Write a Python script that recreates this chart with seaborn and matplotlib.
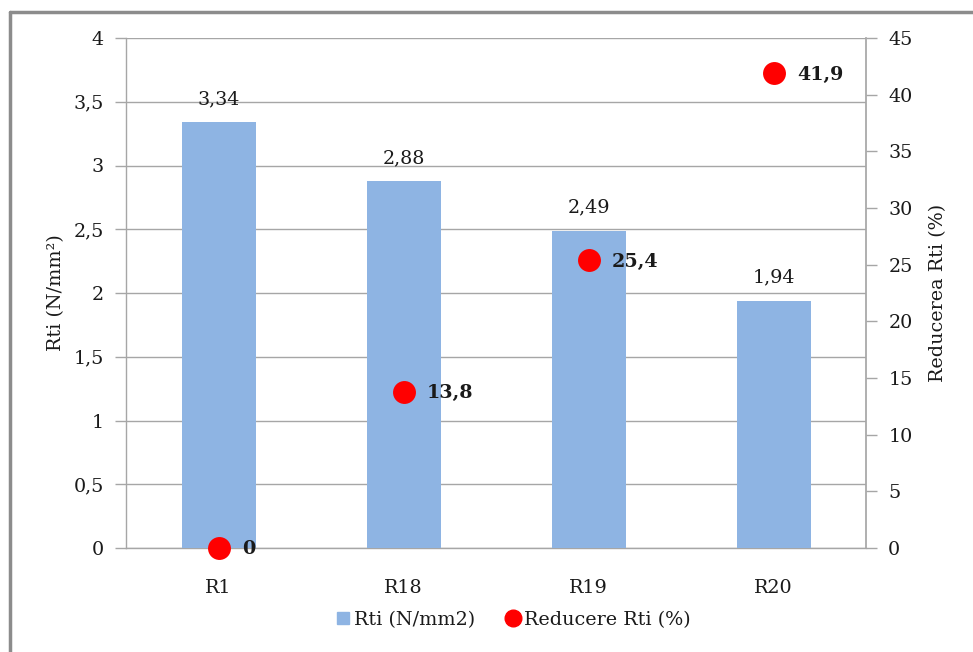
import matplotlib
matplotlib.use("Agg")
import matplotlib.pyplot as plt
import seaborn as sns
import pandas as pd
from matplotlib.lines import Line2D

categories = ["R1", "R18", "R19", "R20"]
rti_values = [3.34, 2.88, 2.49, 1.94]
reduction_values = [0, 13.8, 25.4, 41.9]
left_ticks = [0, 0.5, 1, 1.5, 2, 2.5, 3, 3.5, 4]
right_ticks = [0, 5, 10, 15, 20, 25, 30, 35, 40, 45]

bar_color = "#8EB4E3"
dot_color = "#FF0000"
gray = "#A6A6A6"
text_color = "#1a1a1a"

sns.set_theme(style="white")
plt.rcParams["font.family"] = ["DejaVu Serif", "DejaVu Sans"]
fs = 13.8

def fmt(v):
    s = f"{v:g}"
    return s.replace(".", ",")

df = pd.DataFrame({"cat": categories, "rti": rti_values, "red": reduction_values})

fig = plt.figure(figsize=(9.73, 6.52), dpi=100)
ax = fig.add_axes([126/973, 1-548/652, (866-126)/973, (548-38)/652])

sns.barplot(data=df, x="cat", y="rti", color=bar_color, width=0.4, saturation=1,
            ax=ax, zorder=3, linewidth=0)
ax.set_ylim(0, 4)
ax.set_yticks(left_ticks)
ax.set_yticklabels([fmt(t) for t in left_ticks])
ax.yaxis.grid(True, color=gray, linewidth=1)
ax.set_axisbelow(True)
for side in ["top", "right"]:
    ax.spines[side].set_visible(False)
for side in ["left", "bottom"]:
    ax.spines[side].set_color(gray)
    ax.spines[side].set_linewidth(1)
ax.tick_params(axis="y", which="both", left=True, length=8, width=1, color=gray,
               pad=8, labelsize=fs, labelcolor=text_color)
ax.tick_params(axis="x", bottom=False, pad=16, labelsize=fs, labelcolor=text_color)
ax.set_xlabel("")
ax.set_ylabel("Rti (N/mm²)", fontsize=fs, color=text_color, labelpad=6)

for i, v in enumerate(rti_values):
    ax.annotate(fmt(v), xy=(i, v), xytext=(0, 10), textcoords="offset points",
                ha="center", va="bottom", fontsize=fs, color=text_color)

ax2 = ax.twinx()
sns.stripplot(data=df, x="cat", y="red", jitter=False, color=dot_color, size=16.5,
              ax=ax2, zorder=5, clip_on=False)
ax2.set_ylim(0, 45)
ax2.set_yticks(right_ticks)
ax2.set_yticklabels([str(t) for t in right_ticks])
for side in ["top", "left", "bottom"]:
    ax2.spines[side].set_visible(False)
ax2.spines["right"].set_color(gray)
ax2.tick_params(axis="y", right=True, length=8, width=1, color=gray, pad=8,
                labelsize=fs, labelcolor=text_color)
ax2.set_ylabel("Reducerea Rti (%)", fontsize=fs, color=text_color, labelpad=12)
ax2.set_xlabel("")
ax2.set_xlim(-0.5, 3.5)
ax.set_xlim(-0.5, 3.5)

for i, v in enumerate(reduction_values):
    ax2.annotate(fmt(v), xy=(i, v), xytext=(17, -1), textcoords="offset points",
                 ha="left", va="center", fontsize=fs, fontweight="bold",
                 color=text_color, annotation_clip=False)

handles = [
    Line2D([], [], marker="s", linestyle="none", color=bar_color, markersize=9),
    Line2D([], [], marker="o", linestyle="none", color=dot_color, markersize=12),
]
fig.legend(handles, ["Rti (N/mm2)", "Reducere Rti (%)"], loc="center",
           bbox_to_anchor=(0.527, 1-620/652), ncol=2, frameon=False,
           fontsize=fs, handletextpad=0.15, columnspacing=1.6, handlelength=0.8,
           labelcolor=text_color)

# outer chart border
fig.add_artist(Line2D([10/973, 10/973], [0, 1-12/652], transform=fig.transFigure,
                      color="#8c8c8c", linewidth=2.5))
fig.add_artist(Line2D([10/973, 1], [1-12/652, 1-12/652], transform=fig.transFigure,
                      color="#8c8c8c", linewidth=2.5))

fig.savefig("out.png", dpi=100)
